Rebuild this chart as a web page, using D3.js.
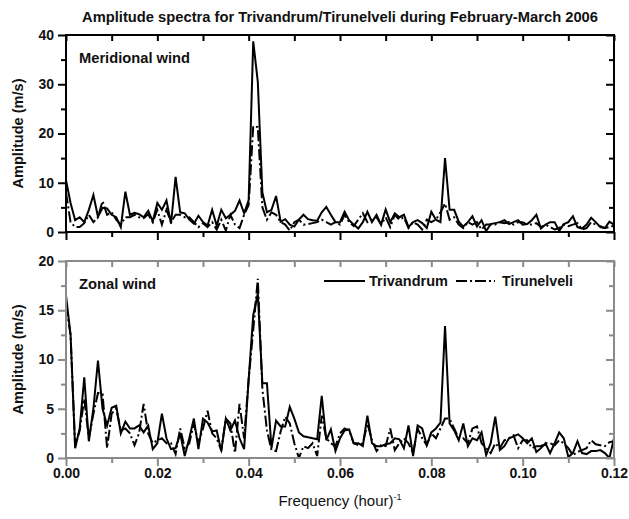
<!DOCTYPE html>
<html>
<head>
<meta charset="utf-8">
<script src="https://cdn.jsdelivr.net/npm/d3@7"></script>
<style>
    body { margin: 0; background: #fff; }
    text { font-family: "Liberation Sans", Arial, sans-serif; fill: #111; }
</style>
</head>
<body>
<svg id="chart" width="629" height="519"></svg>
<script>
const width = 629, height = 519;

// frequency grid of the spectra, (hour)^-1
const freqStep = 0.001;
const freqs = d3.range(121).map(function (i) { return +(i * freqStep).toFixed(3); });

const merTrivandrum = [
    10.5, 5.9, 2.4, 3.0, 2.0, 4.5, 7.5, 3.1, 4.9, 4.8,
    3.5, 3.0, 1.0, 8.2, 3.5, 3.9, 3.6, 3.0, 4.3, 2.2,
    5.9, 4.5, 6.4, 1.7, 11.2, 4.0, 3.8, 2.5, 1.7, 3.3,
    2.0, 1.3, 4.5, 1.3, 4.5, 2.8, 3.5, 4.3, 6.4, 3.8,
    6.5, 38.7, 30.5, 8.0, 4.0, 4.5, 7.3, 2.1, 2.6, 1.5,
    1.1, 2.5, 3.5, 2.6, 2.4, 2.3, 4.0, 5.1, 3.5, 2.0,
    2.0, 4.1, 2.4, 1.5, 0.7, 2.0, 4.1, 2.0, 3.5, 1.5,
    4.6, 2.0, 3.8, 3.0, 3.5, 1.0, 2.0, 2.4, 1.8, 0.8,
    4.1, 2.5, 2.0, 15.0, 4.5, 4.5, 2.1, 1.1, 2.0, 3.2,
    1.1, 2.4, 0.2, 1.6, 1.8, 2.0, 2.4, 1.6, 2.0, 2.4,
    1.5, 1.6, 2.4, 3.5, 0.7, 1.5, 2.0, 2.0, 0.2, 1.6,
    2.0, 3.2, 1.0, 0.7, 1.5, 2.9, 2.0, 1.0, 0.8, 2.1,
    1.5];

const merTirunelveli = [
    8.0, 2.0, 1.0, 1.0, 1.8, 3.5, 2.0, 3.0, 6.3, 3.5,
    4.0, 2.5, 1.5, 3.0, 3.0, 3.5, 3.0, 2.8, 3.6, 2.0,
    4.5, 1.5, 4.5, 2.0, 3.5, 3.5, 3.0, 3.0, 2.0, 1.0,
    1.8, 1.0, 2.0, 0.5, 2.5, 0.3, 3.5, 1.5, 0.8, 3.5,
    5.5, 21.5, 21.3, 5.0, 2.5, 4.0, 3.5, 2.0, 1.5, 0.3,
    2.0, 2.5, 1.5, 1.6, 1.8, 2.0, 2.5, 2.0, 1.5, 2.0,
    1.5, 3.5, 2.0, 1.2, 2.5, 3.8, 2.0, 2.5, 3.0, 1.5,
    3.0, 1.0, 3.5, 2.5, 3.0, 0.8, 2.0, 1.5, 0.5, 2.5,
    2.0, 2.5, 4.0, 5.8, 2.5, 3.0, 1.5, 0.8, 2.0, 1.5,
    2.0, 0.5, 1.5, 1.5, 1.5, 2.0, 1.8, 2.0, 1.5, 2.0,
    2.0, 1.5, 1.5, 1.8, 1.0, 1.5, 1.0, 0.5, 0.8, 1.5,
    1.2, 1.5, 1.8, 0.5, 0.8, 2.0, 1.5, 1.2, 0.8, 1.0,
    1.3];

const zonTrivandrum = [
    16.5, 12.5, 1.0, 3.0, 8.2, 1.7, 5.0, 9.9, 5.0, 3.3,
    5.1, 5.3, 2.5, 3.7, 3.0, 3.0, 3.3, 2.6, 3.3, 0.9,
    1.5, 4.5, 2.0, 0.9, 1.0, 2.5, 0.2, 2.0, 4.0, 0.9,
    4.0, 3.6, 2.7, 2.8, 0.7, 4.0, 2.8, 3.8, 2.0, 0.9,
    8.0, 14.5, 16.7, 7.6, 7.6, 1.0, 3.8, 3.2, 3.2, 5.2,
    4.0, 2.6, 2.2, 2.1, 2.0, 1.9, 6.3, 1.8, 2.9, 0.7,
    2.0, 2.8, 2.9, 1.5, 1.5, 1.2, 4.3, 1.5, 1.2, 1.2,
    1.4, 1.5, 2.0, 1.9, 1.0, 3.3, 0.2, 3.3, 3.0, 1.3,
    2.6, 3.0, 3.6, 13.4, 3.5, 2.8, 1.8, 3.5, 1.2, 2.0,
    1.8, 2.6, 0.3, 1.5, 4.2, 0.8, 1.2, 2.0, 2.2, 2.4,
    2.0, 1.5, 2.0, 0.6, 1.0, 1.5, 0.5, 1.5, 2.6, 2.0,
    0.1, 0.5, 1.7, 0.5, 0.4, 0.7, 0.7, 0.8, 0.5, 0.0,
    2.0];

const zonTirunelveli = [
    15.5, 12.5, 1.2, 2.8, 6.0, 2.0, 4.5, 6.6, 6.5, 1.0,
    4.5, 5.0, 2.8, 3.0, 2.5, 1.3, 2.5, 5.5, 2.5, 1.5,
    1.8, 2.0, 1.5, 1.5, 0.4, 3.0, 1.0, 1.5, 3.5, 1.5,
    3.0, 4.8, 2.5, 2.0, 0.8, 4.0, 3.5, 0.5, 5.5, 2.0,
    8.0, 13.0, 18.2, 7.0, 2.8, 0.8, 0.7, 2.7, 4.2, 3.5,
    1.5, 0.0, 1.2, 1.0, 1.5, 0.2, 4.3, 2.0, 1.5, 1.2,
    2.5, 3.0, 2.8, 1.5, 1.3, 1.5, 3.5, 1.8, 0.7, 1.3,
    1.2, 3.0, 0.8, 1.5, 2.0, 1.5, 0.5, 3.0, 2.0, 1.3,
    2.5, 2.0, 3.0, 4.0, 4.0, 3.0, 2.0, 2.0, 1.5, 3.0,
    3.2, 1.5, 1.0, 0.5, 1.5, 1.0, 1.8, 2.0, 2.3, 1.0,
    1.8, 1.8, 1.0, 1.2, 1.2, 1.5, 1.5, 1.3, 1.8, 1.5,
    1.0, 0.3, 0.6, 0.8, 1.0, 1.8, 1.4, 1.3, 1.2, 1.6,
    1.7];

const xMajorTicks = [0, 0.02, 0.04, 0.06, 0.08, 0.10, 0.12];
const xMinorTicks = [0.01, 0.03, 0.05, 0.07, 0.09, 0.11];
const merYTicks = [0, 10, 20, 30, 40];
const merYMinor = [5, 15, 25, 35];
const zonYTicks = [0, 5, 10, 15, 20];
const zonYMinor = [2.5, 7.5, 12.5, 17.5];

const seriesNames = ['Trivandrum', 'Tirunelveli'];
const dashDot = '11,3,2,3';

const svg = d3.select('#chart');

const x = d3.scaleLinear()
    .domain([0, 0.12])
    .range([66, 614]);

const panels = [
    {id: 'mer', label: 'Meridional wind', top: 35, bottom: 232, max: 40,
        yTicks: merYTicks, yMinor: merYMinor, series: [merTrivandrum, merTirunelveli],
        frame: '#000', xLabels: false, labelLen: 111},
    {id: 'zon', label: 'Zonal wind', top: 261, bottom: 458, max: 20,
        yTicks: zonYTicks, yMinor: zonYMinor, series: [zonTrivandrum, zonTirunelveli],
        frame: '#8a8a8a', xLabels: true, labelLen: 77}
];

function styleAxis(g, color) {
    g.select('.domain').remove();
    g.selectAll('line').attr('stroke', color).attr('stroke-width', 2);
    g.selectAll('text')
        .style('font-family', '"Liberation Sans", Arial, sans-serif')
        .style('font-size', '14px')
        .style('font-weight', 'bold')
        .attr('fill', '#111');
}

panels.forEach(function (p) {
    const y = d3.scaleLinear()
        .domain([0, p.max])
        .range([p.bottom, p.top]);

    const g = svg.append('g').attr('class', 'panel-' + p.id);

    svg.append('clipPath')
        .attr('id', 'clip-' + p.id)
        .append('rect')
        .attr('x', x(0)).attr('y', y(p.max))
        .attr('width', x(0.12) - x(0)).attr('height', y(0) - y(p.max));

    // axes: outward ticks left/bottom, inward ticks top/right
    g.append('g')
        .attr('transform', 'translate(0,' + p.bottom + ')')
        .call(d3.axisBottom(x).tickValues(xMajorTicks).tickSize(8).tickPadding(2)
            .tickFormat(p.xLabels ? d3.format('.2f') : ''))
        .call(styleAxis, p.frame);
    g.append('g')
        .attr('transform', 'translate(0,' + p.bottom + ')')
        .call(d3.axisBottom(x).tickValues(xMinorTicks).tickSize(5).tickFormat(''))
        .call(styleAxis, p.frame);
    g.append('g')
        .attr('transform', 'translate(0,' + p.top + ')')
        .call(d3.axisTop(x).tickValues(xMajorTicks.concat(xMinorTicks)).tickSize(-6).tickFormat(''))
        .call(styleAxis, p.frame);
    g.append('g')
        .attr('transform', 'translate(' + x(0) + ',0)')
        .call(d3.axisLeft(y).tickValues(p.yTicks).tickSize(8).tickPadding(4))
        .call(styleAxis, p.frame);
    g.append('g')
        .attr('transform', 'translate(' + x(0) + ',0)')
        .call(d3.axisLeft(y).tickValues(p.yMinor).tickSize(5).tickFormat(''))
        .call(styleAxis, p.frame);
    g.append('g')
        .attr('transform', 'translate(' + x(0.12) + ',0)')
        .call(d3.axisRight(y).tickValues(p.yTicks).tickSize(-8).tickFormat(''))
        .call(styleAxis, p.frame);
    g.append('g')
        .attr('transform', 'translate(' + x(0.12) + ',0)')
        .call(d3.axisRight(y).tickValues(p.yMinor).tickSize(-5).tickFormat(''))
        .call(styleAxis, p.frame);

    const line = d3.line()
        .x(function (d, i) { return x(freqs[i]); })
        .y(function (d) { return y(d); });

    g.append('g')
        .attr('clip-path', 'url(#clip-' + p.id + ')')
        .selectAll('path')
        .data(p.series)
        .enter().append('path')
        .attr('d', line)
        .attr('fill', 'none')
        .attr('stroke', '#000')
        .attr('stroke-width', 2)
        .attr('stroke-linejoin', 'miter')
        .attr('stroke-dasharray', function (d, i) { return i === 1 ? dashDot : null; });

    g.append('rect')
        .attr('x', x(0)).attr('y', p.top)
        .attr('width', x(0.12) - x(0)).attr('height', p.bottom - p.top)
        .attr('fill', 'none')
        .attr('stroke', p.frame)
        .attr('stroke-width', 2);

    g.append('text')
        .attr('x', 79).attr('y', p.top + 28)
        .attr('textLength', p.labelLen)
        .attr('lengthAdjust', 'spacingAndGlyphs')
        .style('font-size', '15px')
        .style('font-weight', 'bold')
        .text(p.label);

    g.append('text')
        .attr('transform', 'translate(23,' + ((p.top + p.bottom) / 2) + ') rotate(-90)')
        .attr('text-anchor', 'middle')
        .attr('textLength', 110)
        .attr('lengthAdjust', 'spacingAndGlyphs')
        .style('font-size', '15px')
        .style('font-weight', 'bold')
        .text('Amplitude (m/s)');
});

// legend in the zonal panel
const legend = svg.append('g').attr('class', 'legend');
const legendItems = [
    {name: seriesNames[0], x1: 324, x2: 365, tx: 369, len: 79, dash: null},
    {name: seriesNames[1], x1: 456, x2: 495, tx: 502, len: 71, dash: dashDot}
];
legendItems.forEach(function (d) {
    legend.append('line')
        .attr('x1', d.x1).attr('x2', d.x2)
        .attr('y1', 281).attr('y2', 281)
        .attr('stroke', '#000')
        .attr('stroke-width', 2)
        .attr('stroke-dasharray', d.dash);
    legend.append('text')
        .attr('x', d.tx).attr('y', 286)
        .attr('textLength', d.len)
        .attr('lengthAdjust', 'spacingAndGlyphs')
        .style('font-size', '15px')
        .style('font-weight', 'bold')
        .text(d.name);
});

svg.append('text')
    .attr('x', 340).attr('y', 22)
    .attr('text-anchor', 'middle')
    .attr('textLength', 516)
    .attr('lengthAdjust', 'spacingAndGlyphs')
    .style('font-size', '15px')
    .style('font-weight', 'bold')
    .text('Amplitude spectra for Trivandrum/Tirunelveli during February-March 2006');

const xLabel = svg.append('text')
    .attr('x', 340).attr('y', 506)
    .attr('text-anchor', 'middle')
    .style('font-size', '15px');
xLabel.append('tspan').text('Frequency (hour)');
xLabel.append('tspan')
    .attr('dy', -6)
    .style('font-size', '9px')
    .text('-1');
</script>
</body>
</html>
